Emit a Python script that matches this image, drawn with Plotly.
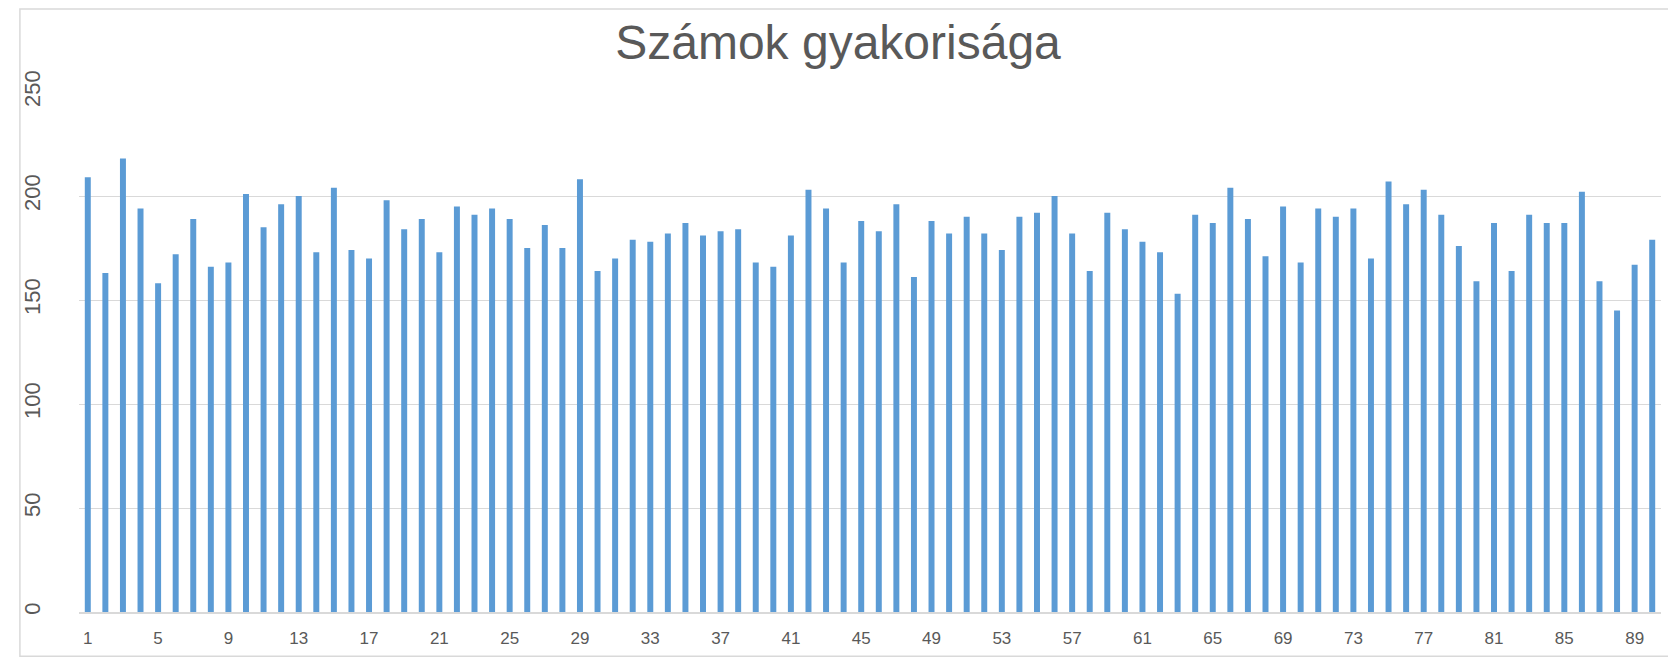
import plotly.graph_objs as go

# Lottery number frequencies
numbers = list(range(1, 91))
counts = [
    209, 163, 218, 194, 158, 172, 189, 166, 168, 201,
    185, 196, 200, 173, 204, 174, 170, 198, 184, 189,
    173, 195, 191, 194, 189, 175, 186, 175, 208, 164,
    170, 179, 178, 182, 187, 181, 183, 184, 168, 166,
    181, 203, 194, 168, 188, 183, 196, 161, 188, 182,
    190, 182, 174, 190, 192, 200, 182, 164, 192, 184,
    178, 173, 153, 191, 187, 204, 189, 171, 195, 168,
    194, 190, 194, 170, 207, 196, 203, 191, 176, 159,
    187, 164, 191, 187, 187, 202, 159, 145, 167, 179,
]
x_ticks = [1, 5, 9, 13, 17, 21, 25, 29, 33, 37, 41, 45,
           49, 53, 57, 61, 65, 69, 73, 77, 81, 85, 89]
y_ticks = [0, 50, 100, 150, 200, 250]

# page body adds an 8px offset, so the figure is sized to end at the window edge
W, H = 1668, 652
L, R, T, B = 60, 15, 84, 45
pw, ph = W - L - R, H - T - B

grey = '#595959'
grid = '#d9d9d9'

trace = go.Bar(x=numbers, y=counts, marker=dict(color='#5b9bd5', line=dict(width=0)))

layout = go.Layout(
    width=W, height=H,
    margin=dict(l=L, r=R, t=T, b=B),
    paper_bgcolor='white', plot_bgcolor='white',
    bargap=0.66, showlegend=False,
    font=dict(family='Liberation Sans, Arial, sans-serif', color=grey),
    title=dict(text='Számok gyakorisága', x=(838 - 8) / W, xanchor='center',
               y=1 - 34 / H, yanchor='middle', yref='container',
               font=dict(size=48, color=grey)),
    xaxis=dict(range=[0.5, 90.5], tickmode='array', tickvals=x_ticks,
               ticktext=[str(v) for v in x_ticks], showgrid=False,
               showline=True, linecolor=grid, linewidth=1.5, ticks='',
               zeroline=False, ticklabelstandoff=10,
               tickfont=dict(size=17, color=grey)),
    yaxis=dict(range=[0, 250], tickmode='array', tickvals=y_ticks,
               showgrid=True, gridcolor=grid, gridwidth=1, showline=False,
               zeroline=False, ticks='', tickangle=-90, ticklabelstandoff=34,
               tickfont=dict(size=22, color=grey)),
    # light frame round the whole chart area
    shapes=[dict(type='rect', xref='paper', yref='paper',
                 x0=-(L - 0.5) / pw, x1=1 + (R - 0.5) / pw,
                 y0=-(B - 0.5) / ph, y1=1 + (T - 0.5) / ph,
                 line=dict(color=grid, width=1.5))],
)

fig = go.Figure(data=[trace], layout=layout)
fig.write_html("out.html")
